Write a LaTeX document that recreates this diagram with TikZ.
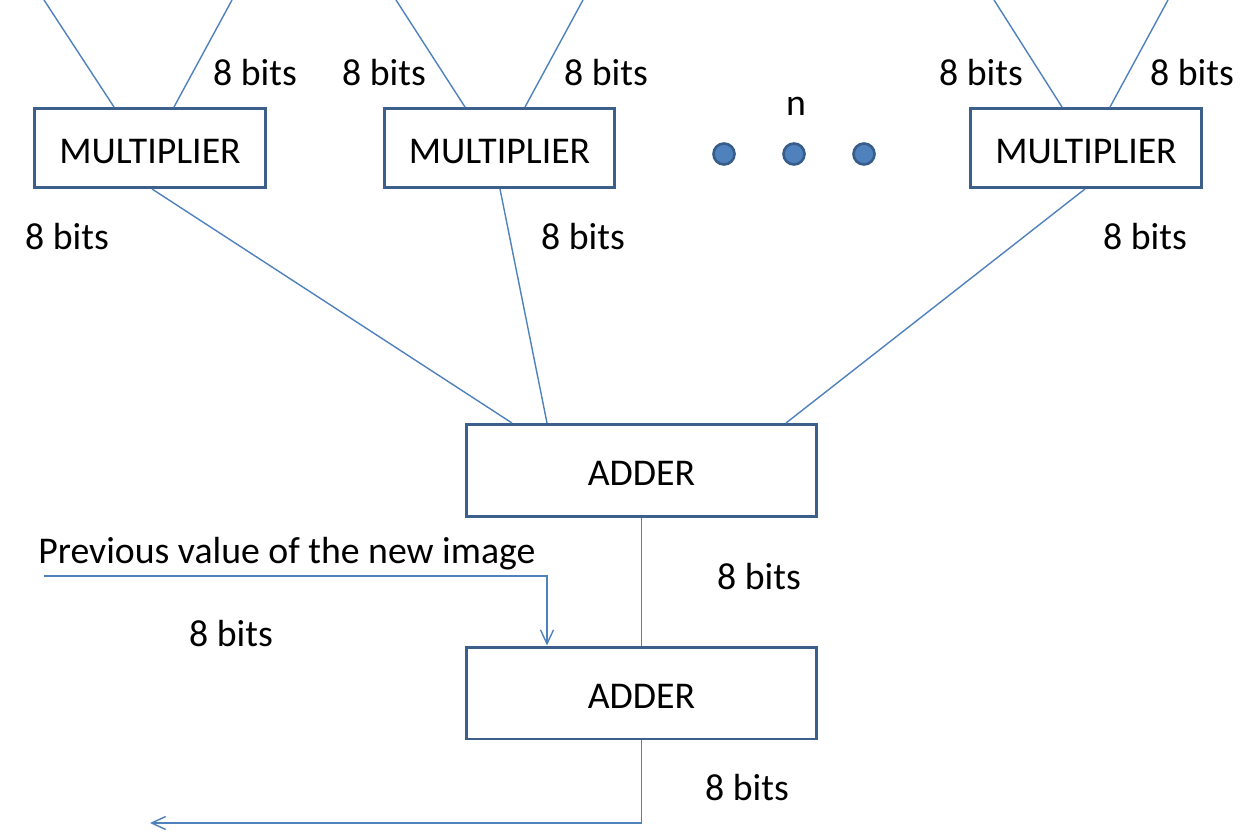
\documentclass[tikz,border=0pt]{standalone}
\usepackage{fontspec}
\setmainfont{Carlito}
\usetikzlibrary{arrows.meta}
\definecolor{boxline}{HTML}{3C5F8C}
\definecolor{linkblue}{HTML}{4F81BD}
\definecolor{dotline}{HTML}{385D8A}
\begin{document}
\begin{tikzpicture}[x=0.02cm,y=-0.02cm,
	every node/.style={font=\fontsize{21.5}{25}\selectfont},
	unit/.style={draw=boxline,line width=1.7pt,fill=white,inner sep=0pt,text height=17.4pt,text depth=0pt},
	mult/.style={unit,minimum width=4.62cm,minimum height=1.58cm},
	add/.style={unit,minimum width=7.0cm,minimum height=1.84cm},
	link/.style={draw=linkblue,line width=0.8pt},
	tip/.style={-{Straight Barb[length=0.28cm,width=0.26cm,line width=0.8pt]}},
	tag/.style={yshift=-1.6pt},
	dot/.style={circle,draw=dotline,fill=linkblue,line width=1.5pt,minimum size=0.42cm,inner sep=0pt}]
	\useasboundingbox (0,0) rectangle (1257,837);

	% units
	\node[mult] (m1) at (150,148) {MULTIPLIER};
	\node[mult] (m2) at (499.5,148) {MULTIPLIER};
	\node[mult] (m3) at (1086,148) {MULTIPLIER};
	\node[add] (a1) at (641.5,470.5) {ADDER};
	\node[add] (a2) at (641.5,693) {ADDER};

	% dots between the multipliers
	\node[dot] (d1) at (724,154) {};
	\node[dot] (d2) at (794,154) {};
	\node[dot] (d3) at (864,154) {};
	\node[tag] (n) at (796,104) {n};

	% free ends
	\coordinate (t1) at (44,0);
	\coordinate (t2) at (232,0);
	\coordinate (t3) at (396,0);
	\coordinate (t4) at (583,0);
	\coordinate (t5) at (994,0);
	\coordinate (t6) at (1168,0);
	\coordinate (prev) at (44,576);
	\coordinate (bend) at (547,576);
	\coordinate (out) at (150,823);

	% inputs of the multipliers
	\draw[link] (t1) -- (114,0 |- m1.north);
	\draw[link] (t2) -- (174,0 |- m1.north);
	\draw[link] (t3) -- (465,0 |- m2.north);
	\draw[link] (t4) -- (525,0 |- m2.north);
	\draw[link] (t5) -- (1062,0 |- m3.north);
	\draw[link] (t6) -- (1110,0 |- m3.north);

	% multipliers to adder
	\draw[link] (152,0 |- m1.south) -- (512,0 |- a1.north);
	\draw[link] (500,0 |- m2.south) -- (547,0 |- a1.north);
	\draw[link] (1085,0 |- m3.south) -- (786,0 |- a1.north);

	% adder to adder, previous value, output
	\draw[link] (a1.south) -- (a2.north);
	\draw[link,tip] (prev) -- (bend) -- (bend |- a2.north);
	\draw[link,tip] (a2.south) -- (a2.south |- out) -- (out);

	% labels
	\node[tag] (b1) at (255,70) {8 bits};
	\node[tag] (b2) at (384,70) {8 bits};
	\node[tag] (b3) at (606,70) {8 bits};
	\node[tag] (b4) at (981,70) {8 bits};
	\node[tag] (b5) at (1192,70) {8 bits};
	\node[tag] (b6) at (67,234) {8 bits};
	\node[tag] (b7) at (583,234) {8 bits};
	\node[tag] (b8) at (1145,234) {8 bits};
	\node[tag] (b9) at (759,574) {8 bits};
	\node[tag] (b10) at (231,631) {8 bits};
	\node[tag] (b11) at (747,785) {8 bits};
	\node[tag,anchor=west,inner sep=0pt] (pv) at (38,551) {Previous value of the new image};
\end{tikzpicture}
\end{document}
